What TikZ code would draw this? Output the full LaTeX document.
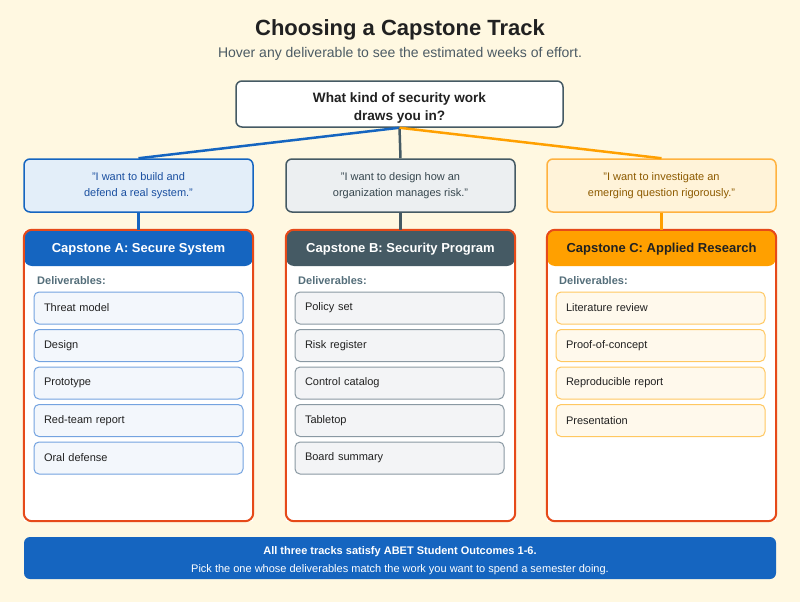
\documentclass[tikz,border=0pt]{standalone}
\usepackage{fontspec}
\setmainfont{Liberation Sans}
\usetikzlibrary{positioning}

\definecolor{pagebg}{HTML}{FFF8E1}
\definecolor{ink}{HTML}{212121}
\definecolor{slate}{HTML}{455A64}
\definecolor{subgray}{HTML}{4C5B64}
\definecolor{trackA}{HTML}{1565C0}
\definecolor{trackB}{HTML}{455A64}
\definecolor{trackC}{HTML}{FFA000}
\definecolor{edgeC}{HTML}{FFB23F}
\definecolor{cardedge}{HTML}{E64A19}
\definecolor{quoteAfill}{HTML}{E3EEF9}
\definecolor{quoteBfill}{HTML}{ECEFF1}
\definecolor{quoteCfill}{HTML}{FFF3D9}
\definecolor{quoteAtext}{HTML}{1A4FA0}
\definecolor{quoteBtext}{HTML}{37474F}
\definecolor{quoteCtext}{HTML}{8D5A00}
\definecolor{itemAfill}{HTML}{F3F7FC}
\definecolor{itemAedge}{HTML}{74A3E0}
\definecolor{itemBfill}{HTML}{F3F4F6}
\definecolor{itemBedge}{HTML}{8A99A3}
\definecolor{itemCfill}{HTML}{FFF9EC}
\definecolor{itemCedge}{HTML}{FFC861}
\definecolor{labelgray}{HTML}{546E7A}

\newcommand{\lowerstrut}[1]{\rule{0pt}{#1}}

\tikzset{
  quote/.style={rounded corners=6pt, line width=1.5pt, minimum width=229pt,
    minimum height=53pt, inner sep=0pt, align=center,
    font=\fontsize{11}{16}\selectfont},
  card/.style={fill=white, minimum width=229pt, minimum height=291pt, inner sep=0pt},
  cardline/.style={draw=cardedge, line width=2pt, rounded corners=8pt},
  head/.style={rounded corners=8pt, minimum width=229pt, minimum height=36pt,
    inner sep=0pt, text depth=-1pt, font=\bfseries\fontsize{13}{15}\selectfont},
  item/.style={draw, rounded corners=5pt, line width=1pt, minimum height=32pt,
    text width=189pt, inner xsep=10pt, inner ysep=0pt, align=left,
    font=\fontsize{11}{13}\selectfont, text=ink},
  deliv/.style={anchor=west, inner sep=0pt, text=labelgray,
    font=\bfseries\fontsize{11}{13}\selectfont},
  link/.style={line width=2.5pt}
}

\begin{document}
\begin{tikzpicture}[x=1pt,y=-1pt]
    \fill[pagebg] (0,0) rectangle (800,602);
    \useasboundingbox (0,0) rectangle (800,602);

    % title
    \node[text=ink, font=\bfseries\fontsize{22}{26}\selectfont] (title) at (400,30) {Choosing a Capstone Track};
    \node[text=subgray, font=\fontsize{14}{17}\selectfont] (subtitle) at (400,54) {Hover any deliverable to see the estimated weeks of effort.};

    % question
    \node[draw=slate, fill=white, line width=1.5pt, rounded corners=6pt, minimum width=327pt,
      minimum height=46pt, inner sep=0pt, align=center, text=ink,
      font=\bfseries\fontsize{13.6}{18}\selectfont] (ask) at (399.5,104) {\lowerstrut{17pt}What kind of security work\\draws you in?};

    % quotes
    \node[quote, draw=trackA, fill=quoteAfill, text=quoteAtext] (quoteA) at (138.5,185.5) {"I want to build and\\defend a real system."};
    \node[quote, draw=trackB, fill=quoteBfill, text=quoteBtext] (quoteB) at (400.5,185.5) {"I want to design how an\\organization manages risk."};
    \node[quote, draw=edgeC, fill=quoteCfill, text=quoteCtext] (quoteC) at (661.5,185.5) {"I want to investigate an\\emerging question rigorously."};

    % cards
    \node[card] (cardA) at (138.5,375.5) {};
    \node[card] (cardB) at (400.5,375.5) {};
    \node[card] (cardC) at (661.5,375.5) {};
    \node[head, fill=trackA, text=white] (headA) at (138.5,248) {Capstone A: Secure System};
    \node[head, fill=trackB, text=white] (headB) at (400.5,248) {Capstone B: Security Program};
    \node[head, fill=trackC, text=ink] (headC) at (661.5,248) {Capstone C: Applied Research};
    \draw[cardline] (cardA.north west) rectangle (cardA.south east);
    \draw[cardline] (cardB.north west) rectangle (cardB.south east);
    \draw[cardline] (cardC.north west) rectangle (cardC.south east);

    \node[deliv] (delA) at (37,281) {Deliverables:};
    \node[deliv] (delB) at (298,281) {Deliverables:};
    \node[deliv] (delC) at (559,281) {Deliverables:};

    % track A
    \node[item, draw=itemAedge, fill=itemAfill] (a1) at (138.5,308) {Threat model};
    \node[item, draw=itemAedge, fill=itemAfill] (a2) at (138.5,345.5) {Design};
    \node[item, draw=itemAedge, fill=itemAfill] (a3) at (138.5,383) {Prototype};
    \node[item, draw=itemAedge, fill=itemAfill] (a4) at (138.5,420.5) {Red-team report};
    \node[item, draw=itemAedge, fill=itemAfill] (a5) at (138.5,458) {Oral defense};

    % track B
    \node[item, draw=itemBedge, fill=itemBfill] (b1) at (399.5,308) {Policy set};
    \node[item, draw=itemBedge, fill=itemBfill] (b2) at (399.5,345.5) {Risk register};
    \node[item, draw=itemBedge, fill=itemBfill] (b3) at (399.5,383) {Control catalog};
    \node[item, draw=itemBedge, fill=itemBfill] (b4) at (399.5,420.5) {Tabletop};
    \node[item, draw=itemBedge, fill=itemBfill] (b5) at (399.5,458) {Board summary};

    % track C
    \node[item, draw=itemCedge, fill=itemCfill] (c1) at (660.5,308) {Literature review};
    \node[item, draw=itemCedge, fill=itemCfill] (c2) at (660.5,345.5) {Proof-of-concept};
    \node[item, draw=itemCedge, fill=itemCfill] (c3) at (660.5,383) {Reproducible report};
    \node[item, draw=itemCedge, fill=itemCfill] (c4) at (660.5,420.5) {Presentation};

    % links
    \draw[link, trackA] (ask.south) -- (quoteA.north);
    \draw[link, trackB] (ask.south) -- (quoteB.north);
    \draw[link, trackC] (ask.south) -- (quoteC.north);
    \draw[link, trackA] (quoteA.south) -- (cardA.north);
    \draw[link, trackB] (quoteB.south) -- (cardB.north);
    \draw[link, trackC] (quoteC.south) -- (cardC.north);

    % footer
    \node[fill=trackA, rounded corners=6pt, minimum width=752pt, minimum height=42pt, inner sep=0pt,
      align=center, text=white, font=\fontsize{11}{18}\selectfont] (note) at (400,558)
      {\lowerstrut{14pt}\textbf{All three tracks satisfy ABET Student Outcomes 1-6.}\\Pick the one whose deliverables match the work you want to spend a semester doing.};
\end{tikzpicture}
\end{document}
